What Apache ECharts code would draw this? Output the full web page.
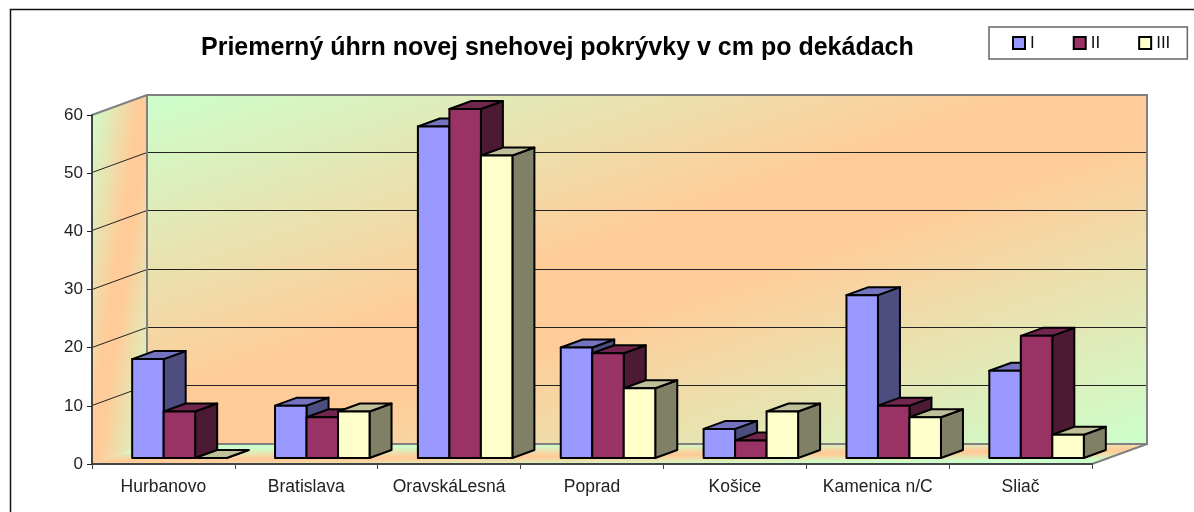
<!DOCTYPE html>
<html>
<head>
<meta charset="utf-8">
<script src="https://cdn.jsdelivr.net/npm/echarts@6/dist/echarts.min.js"></script>
<style>html,body{margin:0;padding:0;background:#fff}#c{width:1194px;height:512px}</style>
</head>
<body>
<div id="c"></div>
<script>
var titleText = 'Priemerný úhrn novej snehovej pokrývky v cm po dekádach';
var categories = ['Hurbanovo', 'Bratislava', 'OravskáLesná', 'Poprad', 'Košice', 'Kamenica n/C', 'Sliač'];
var seriesNames = ['I', 'II', 'III'];
var valuesI = [17, 9, 57, 19, 5, 28, 15];
var valuesII = [8, 7, 60, 18, 3, 9, 21];
var valuesIII = [0, 8, 52, 12, 8, 7, 4];
var yTicks = [0, 10, 20, 30, 40, 50, 60];
var colorsFront = ['#9999FF', '#993366', '#FFFFCC'];
var colorsTop = ['#7373BF', '#73264D', '#BFBF99'];
var colorsSide = ['#4D4D80', '#4D1A33', '#808066'];

var FONT = '"Liberation Sans", Arial, sans-serif';
var GREEN = '#CCFFCC', ORANGE = '#FFCC99';
var WALL_DX = 55, WALL_DY = -20;
var FRONT_DX = 16, FRONT_DY = -6;
var BAR_DX = 22, BAR_DY = -8;
var BAR_SHARE = 0.2205;

function diagGradient(x, y, w, h) {
  var cx = x + w / 2, cy = y + h / 2, k = w * h / (w * w + h * h);
  return new echarts.graphic.LinearGradient(
    cx - h * k, cy - w * k, cx + h * k, cy + w * k,
    [{offset: 0, color: GREEN}, {offset: 0.44, color: ORANGE}, {offset: 0.56, color: ORANGE}, {offset: 1, color: GREEN}], true);
}

function renderWalls(params, api) {
  var cs = params.coordSys;
  var x0 = cs.x, x1 = cs.x + cs.width, yT = cs.y, yB = cs.y + cs.height;
  var dx = WALL_DX, dy = WALL_DY;
  var edge = {stroke: '#808080', lineWidth: 2, fill: 'none'};
  var kids = [];
  kids.push({type: 'polygon', shape: {points: [[x0 + dx, yT + dy], [x1 + dx, yT + dy], [x1 + dx, yB + dy], [x0 + dx, yB + dy]]},
    style: {fill: diagGradient(x0 + dx, yT + dy, cs.width, cs.height)}});
  kids.push({type: 'polygon', shape: {points: [[x0, yT], [x0 + dx, yT + dy], [x0 + dx, yB + dy], [x0, yB]]},
    style: {fill: diagGradient(x0, yT + dy, dx, cs.height - dy)}});
  kids.push({type: 'polygon', shape: {points: [[x0, yB], [x0 + dx, yB + dy], [x1 + dx, yB + dy], [x1, yB]]},
    style: {fill: new echarts.graphic.LinearGradient(620 - 0.115, yB + dy, 620 + 0.115, yB + 1,
      [{offset: 0, color: GREEN}, {offset: 0.5, color: ORANGE}, {offset: 0.6, color: ORANGE}, {offset: 1, color: GREEN}], true)}});
  yTicks.forEach(function (t) {
    if (t === 0 || t === 60) return;
    var y = Math.round(api.coord([0, t])[1]) - 0.5;
    kids.push({type: 'polyline', shape: {points: [[x0, y], [x0 + dx, y + dy], [x1 + dx, y + dy]]},
      style: {stroke: '#222', lineWidth: 1, fill: 'none'}});
  });
  kids.push({type: 'polyline', shape: {points: [[x0, yT], [x0 + dx, yT + dy], [x1 + dx, yT + dy], [x1 + dx, yB + dy], [x0 + dx, yB + dy]]}, style: edge});
  kids.push({type: 'line', shape: {x1: x0 + dx, y1: yT + dy, x2: x0 + dx, y2: yB + dy}, style: edge});
  kids.push({type: 'line', shape: {x1: x1 + dx, y1: yB + dy, x2: x1, y2: yB}, style: edge});
  return {type: 'group', children: kids};
}

function barRenderer(seriesIdx) {
  return function (params, api) {
    var cat = api.value(0), val = api.value(1);
    var base = api.coord([cat, 0]), top = api.coord([cat, val]);
    var bw = api.size([1, 0])[0] * BAR_SHARE;
    var xL = base[0] + FRONT_DX - 1.5 * bw + seriesIdx * bw, xR = xL + bw;
    var yB = base[1] + FRONT_DY, yT = top[1] + FRONT_DY;
    var line = {stroke: '#000', lineWidth: 2, lineJoin: 'round'};
    return {type: 'group', children: [
      {type: 'polygon', shape: {points: [[xR, yT], [xR + BAR_DX, yT + BAR_DY], [xR + BAR_DX, yB + BAR_DY], [xR, yB]]},
        style: Object.assign({fill: colorsSide[seriesIdx]}, line)},
      {type: 'polygon', shape: {points: [[xL, yT], [xL + BAR_DX, yT + BAR_DY], [xR + BAR_DX, yT + BAR_DY], [xR, yT]]},
        style: Object.assign({fill: colorsTop[seriesIdx]}, line)},
      {type: 'polygon', shape: {points: [[xL, yT], [xR, yT], [xR, yB], [xL, yB]]},
        style: Object.assign({fill: colorsFront[seriesIdx]}, line)}
    ]};
  };
}

function rows(values) { return values.map(function (v, i) { return [i, v]; }); }

var chart = echarts.init(document.getElementById('c'), null, {renderer: 'canvas'});
chart.setOption({
  animation: false,
  backgroundColor: '#fff',
  title: {
    text: titleText, left: 201, top: 36,
    textStyle: {fontFamily: FONT, fontSize: 25, fontWeight: 'bold', color: '#000'},
    padding: 0
  },
  legend: {
    data: seriesNames, left: 989, top: 27, orient: 'horizontal',
    padding: [7.5, 17, 7.5, 23], itemWidth: 12, itemHeight: 12, itemGap: 38,
    borderColor: '#666', borderWidth: 1.5, backgroundColor: '#fff',
    icon: 'rect', selectedMode: false,
    textStyle: {fontFamily: FONT, fontSize: 17, color: '#111'}
  },
  grid: {left: 92, top: 115, width: 1000, height: 349},
  xAxis: {
    type: 'category', data: categories, z: 3,
    axisLine: {lineStyle: {color: '#444', width: 2}},
    axisTick: {show: true, length: 5, alignWithLabel: false, lineStyle: {color: '#444', width: 1}},
    axisLabel: {fontFamily: FONT, fontSize: 17.5, color: '#222', margin: 14, interval: 0},
    splitLine: {show: false}
  },
  yAxis: {
    type: 'value', min: 0, max: 60, interval: 10, z: 3,
    axisLine: {show: true, lineStyle: {color: '#444', width: 2}},
    axisTick: {show: true, length: 5, lineStyle: {color: '#222', width: 1}},
    axisLabel: {fontFamily: FONT, fontSize: 17, color: '#222', margin: 9},
    splitLine: {show: false}
  },
  graphic: [{
    type: 'polyline', z: 10, silent: true,
    shape: {points: [[10.5, 512], [10.5, 9.5], [1194, 9.5]]},
    style: {stroke: '#111', lineWidth: 1.5, fill: 'none'}
  }],
  series: [
    {type: 'custom', name: 'walls', z: 1, silent: true, clip: false, data: [[0, 0]], encode: {x: 0, y: 1}, renderItem: renderWalls},
    {type: 'custom', name: seriesNames[0], z: 2, clip: false, data: rows(valuesI), encode: {x: 0, y: 1}, renderItem: barRenderer(0),
      itemStyle: {color: colorsFront[0], borderColor: '#000', borderWidth: 1.5}},
    {type: 'custom', name: seriesNames[1], z: 2, clip: false, data: rows(valuesII), encode: {x: 0, y: 1}, renderItem: barRenderer(1),
      itemStyle: {color: colorsFront[1], borderColor: '#000', borderWidth: 1.5}},
    {type: 'custom', name: seriesNames[2], z: 2, clip: false, data: rows(valuesIII), encode: {x: 0, y: 1}, renderItem: barRenderer(2),
      itemStyle: {color: colorsFront[2], borderColor: '#000', borderWidth: 1.5}}
  ]
});
</script>
</body>
</html>
